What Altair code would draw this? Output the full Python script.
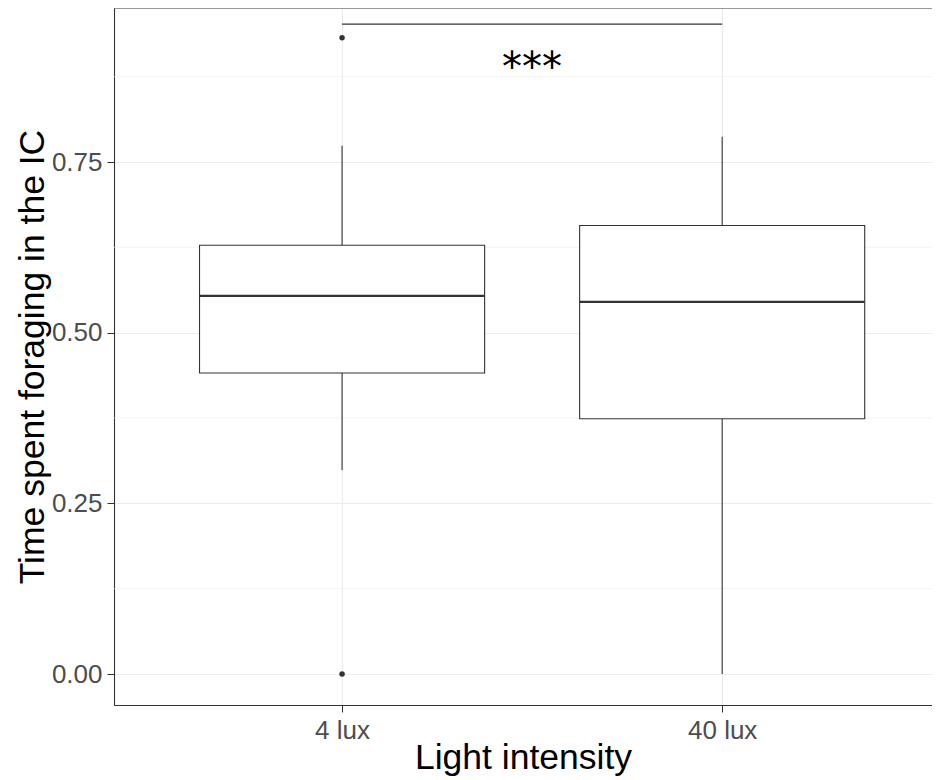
import altair as alt
import pandas as pd

# ---- data ----
categories = ["4 lux", "40 lux"]
lower_whisker = [0.299, 0.0]
q1 = [0.441, 0.374]
median = [0.554, 0.545]
q3 = [0.628, 0.657]
upper_whisker = [0.774, 0.787]
outlier_group = ["4 lux", "4 lux"]
outlier_value = [0.932, 0.0]
sig_label = "***"
sig_y = 0.952
sig_text_y = 0.868
minor_grid = [0.125, 0.375, 0.625, 0.875]
major_ticks = [0.0, 0.25, 0.5, 0.75]

pos = {c: i + 1 for i, c in enumerate(categories)}
box_df = pd.DataFrame({
    "group": categories,
    "pos": [pos[c] for c in categories],
    "lo": lower_whisker, "q1": q1, "med": median, "q3": q3, "hi": upper_whisker,
})
out_df = pd.DataFrame({"pos": [pos[g] for g in outlier_group], "value": outlier_value})
sig_df = pd.DataFrame({"x1": [pos[categories[0]]], "x2": [pos[categories[1]]],
                       "y": [sig_y], "ty": [sig_text_y], "label": [sig_label]})
grid_df = pd.DataFrame({"y": minor_grid})

W, H = 818, 697
xdom = [0.4, 2.552]
ydom = [-0.0454, 0.9756]
dark = "#333333"

label_expr = " : ".join(
    [f"datum.value == {pos[c]} ? '{c}'" for c in categories]) + " : ''"

xscale = alt.Scale(domain=xdom, nice=False, zero=False)
yscale = alt.Scale(domain=ydom, nice=False, zero=False)

x_axis = alt.Axis(values=[pos[c] for c in categories], labelExpr=label_expr,
                  title="Light intensity", grid=True, gridColor="#EBEBEB", gridWidth=1.1,
                  domainColor=dark, domainWidth=1.1, tickColor=dark, tickSize=7,
                  labelFontSize=26, labelColor="#4D4D4D", labelPadding=5,
                  titleFontSize=35.5, titleColor="black", titleFontWeight="normal",
                  titlePadding=-3)
y_axis = alt.Axis(values=major_ticks, format=".2f", title="Time spent foraging in the IC",
                  grid=True, gridColor="#EBEBEB", gridWidth=1.1,
                  domainColor=dark, domainWidth=1.1, tickColor=dark, tickSize=7,
                  labelFontSize=26, labelColor="#4D4D4D", labelPadding=5,
                  titleFontSize=35.5, titleColor="black", titleFontWeight="normal",
                  titlePadding=1)

base = alt.Chart(box_df)

minor = alt.Chart(grid_df).mark_rule(color="#EBEBEB", strokeWidth=0.6).encode(
    y=alt.Y("y:Q", scale=yscale, axis=y_axis),
    x=alt.value(0), x2=alt.value(W))

whisk_low = base.mark_rule(color=dark, strokeWidth=1.1).encode(
    x=alt.X("pos:Q", scale=xscale, axis=x_axis),
    y=alt.Y("lo:Q", scale=yscale), y2="q1:Q")
whisk_high = base.mark_rule(color=dark, strokeWidth=1.1).encode(
    x=alt.X("pos:Q", scale=xscale), y=alt.Y("q3:Q", scale=yscale), y2="hi:Q")

box = base.transform_calculate(
    xl="datum.pos - 0.375", xr="datum.pos + 0.375"
).mark_rect(fill="white", stroke=dark, strokeWidth=1.1).encode(
    x=alt.X("xl:Q", scale=xscale), x2="xr:Q",
    y=alt.Y("q1:Q", scale=yscale), y2="q3:Q")

med = base.transform_calculate(
    xl="datum.pos - 0.375", xr="datum.pos + 0.375"
).mark_rule(color=dark, strokeWidth=2.2).encode(
    x=alt.X("xl:Q", scale=xscale), x2="xr:Q",
    y=alt.Y("med:Q", scale=yscale))

pts = alt.Chart(out_df).mark_circle(color=dark, opacity=1, size=30).encode(
    x=alt.X("pos:Q", scale=xscale), y=alt.Y("value:Q", scale=yscale))

sig_bar = alt.Chart(sig_df).mark_rule(color=dark, strokeWidth=1.1).encode(
    x=alt.X("x1:Q", scale=xscale), x2="x2:Q", y=alt.Y("y:Q", scale=yscale))

sig_txt = alt.Chart(sig_df).transform_calculate(
    xm="(datum.x1 + datum.x2) / 2"
).mark_text(fontSize=40, font="DejaVu Sans", baseline="alphabetic",
            align="center", color="black").encode(
    x=alt.X("xm:Q", scale=xscale), y=alt.Y("ty:Q", scale=yscale), text="label:N")

top_border = alt.Chart(sig_df).mark_rule(color=dark, strokeWidth=1.1).encode(
    x=alt.value(0), x2=alt.value(W), y=alt.value(0))

chart = alt.layer(minor, whisk_low, whisk_high, box, med, pts, sig_bar, sig_txt, top_border
).properties(
    width=W, height=H,
    autosize=alt.AutoSizeParams(type="none"),
    padding={"left": 106, "top": 0, "right": 0, "bottom": 72},
).configure_view(stroke=None).configure_axis(
    labelFont="Liberation Sans", titleFont="Liberation Sans")

chart.save("out.html", embed_options={"renderer": "svg", "actions": False})
